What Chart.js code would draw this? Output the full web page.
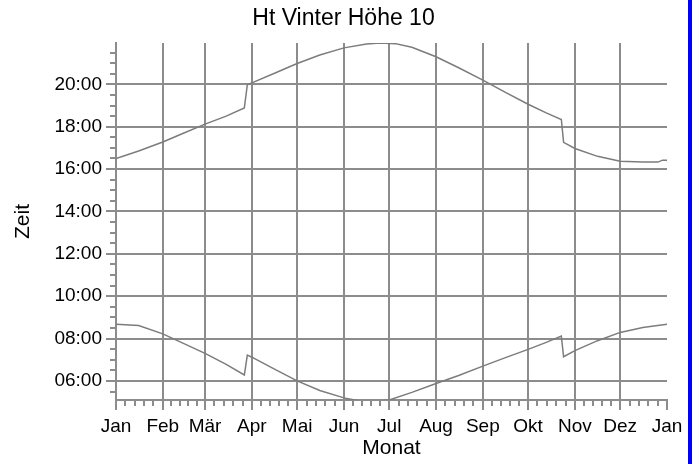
<!DOCTYPE html>
<html>
<head>
<meta charset="utf-8">
<script src="https://cdn.jsdelivr.net/npm/chart.js"></script>
<style>
  body { margin: 0; background: #fff; }
  #wrap { position: relative; width: 699px; height: 464px; }
  #kante { position: absolute; left: 688px; top: 0; width: 4px; height: 464px; background: #0000ff; }
</style>
</head>
<body>
<div id="wrap">
  <canvas id="zeitChart" width="699" height="464"></canvas>
  <div id="kante"></div>
</div>
<script>
// Tag im Jahr (0 = 1. Januar) und Uhrzeit in Stunden
let abendTage = [0, 15, 31, 45, 59, 73, 85, 87, 90, 105, 120, 135, 151, 166, 175, 185, 196, 212, 227, 243, 258, 273, 285, 295, 296.5, 304, 319, 334, 349, 359, 362, 365];
let abendZeit = [16.50, 16.85, 17.28, 17.70, 18.12, 18.50, 18.88, 19.98, 20.07, 20.52, 20.98, 21.38, 21.72, 21.90, 21.95, 21.92, 21.75, 21.30, 20.78, 20.20, 19.62, 19.06, 18.65, 18.34, 17.26, 16.97, 16.60, 16.37, 16.33, 16.33, 16.42, 16.42];

let morgenTage = [0, 15, 31, 45, 59, 73, 85, 87, 90, 105, 120, 135, 151, 160, 170, 181, 196, 212, 227, 243, 258, 273, 285, 295, 296.5, 304, 319, 334, 349, 365];
let morgenZeit = [8.68, 8.62, 8.22, 7.76, 7.30, 6.78, 6.28, 7.22, 7.12, 6.56, 6.00, 5.55, 5.20, 5.08, 5.03, 5.10, 5.46, 5.88, 6.26, 6.70, 7.10, 7.49, 7.82, 8.12, 7.14, 7.43, 7.90, 8.29, 8.52, 8.67];

let monatStart = [0, 31, 59, 90, 120, 151, 181, 212, 243, 273, 304, 334, 365];
let monatNamen = ['Jan', 'Feb', 'Mär', 'Apr', 'Mai', 'Jun', 'Jul', 'Aug', 'Sep', 'Okt', 'Nov', 'Dez', 'Jan'];
let stundenTicks = [6, 8, 10, 12, 14, 16, 18, 20];

const gridGrau = '#8c8c8c';
const linienGrau = '#7c7c7c';
const schrift = "'Liberation Sans', Arial, sans-serif";

function punkte(tage, zeit) {
  return tage.map((t, i) => ({ x: t, y: zeit[i] }));
}

// kleine Striche: 4 pro Monat, alle 30 Minuten
const kleineStriche = {
  id: 'kleineStriche',
  afterDraw(chart) {
    const { ctx, chartArea, scales: { x, y } } = chart;
    ctx.save();
    ctx.strokeStyle = gridGrau;
    ctx.lineWidth = 2;
    ctx.beginPath();
    for (let m = 0; m < monatStart.length - 1; m++) {
      let a = monatStart[m], b = monatStart[m + 1];
      for (let k = 1; k < 5; k++) {
        let px = Math.round(x.getPixelForValue(a + (b - a) * k / 5));
        ctx.moveTo(px, chartArea.bottom);
        ctx.lineTo(px, chartArea.bottom + 6);
      }
    }
    for (let h = 5.5; h < y.max; h += 0.5) {
      if (h % 2 === 0) continue;
      let py = Math.round(y.getPixelForValue(h));
      ctx.moveTo(chartArea.left - 6, py);
      ctx.lineTo(chartArea.left, py);
    }
    ctx.stroke();
    ctx.restore();
  }
};

let ctx = document.getElementById('zeitChart').getContext('2d');

let zeitChart = new Chart(ctx, {
  type: 'line',
  data: {
    datasets: [{
      data: punkte(abendTage, abendZeit),
      borderColor: linienGrau,
      borderWidth: 1.5,
      pointRadius: 0,
      tension: 0
    }, {
      data: punkte(morgenTage, morgenZeit),
      borderColor: linienGrau,
      borderWidth: 1.5,
      pointRadius: 0,
      tension: 0
    }]
  },
  options: {
    responsive: false,
    animation: false,
    layout: { padding: { right: 12 } },
    plugins: {
      legend: { display: false },
      tooltip: { enabled: false },
      title: {
        display: true,
        text: 'Ht Vinter Höhe 10',
        color: '#000',
        font: { family: schrift, size: 23, weight: 'normal' },
        padding: { top: 5, bottom: 10.4 }
      }
    },
    scales: {
      x: {
        type: 'linear',
        min: 0,
        max: 365,
        afterBuildTicks: (s) => { s.ticks = monatStart.map(v => ({ value: v })); },
        afterFit: (s) => { s.height = 64; },
        ticks: {
          callback: (v, i) => monatNamen[i],
          autoSkip: false,
          maxRotation: 0,
          padding: 5,
          color: '#000',
          font: { family: schrift, size: 19 }
        },
        grid: {
          color: (c) => (c.tick && c.tick.value === 365) ? 'rgba(0,0,0,0)' : gridGrau,
          tickColor: gridGrau,
          lineWidth: 2,
          tickLength: 10
        },
        border: { color: gridGrau, width: 2 },
        title: {
          display: true,
          text: 'Monat',
          color: '#000',
          font: { family: schrift, size: 21 },
          padding: { top: 0, bottom: 3 }
        }
      },
      y: {
        min: 5.1,
        max: 21.95,
        afterBuildTicks: (s) => { s.ticks = stundenTicks.map(v => ({ value: v })); },
        afterFit: (s) => { s.width = 116; },
        ticks: {
          callback: (v) => String(v).padStart(2, '0') + ':00',
          padding: 4,
          color: '#000',
          font: { family: schrift, size: 19 }
        },
        grid: {
          color: gridGrau,
          tickColor: gridGrau,
          lineWidth: 2,
          tickLength: 10
        },
        border: { color: gridGrau, width: 2 },
        title: {
          display: true,
          text: 'Zeit',
          color: '#000',
          font: { family: schrift, size: 21 },
          padding: { top: 11, bottom: 0 }
        }
      },
      // leerer Rand rechts, damit die Überschrift etwas weiter rechts steht
      rand: {
        position: 'right',
        afterFit: (s) => { s.width = 20; },
        ticks: { display: false },
        grid: { display: false },
        border: { display: false }
      }
    }
  },
  plugins: [kleineStriche]
});
</script>
</body>
</html>
